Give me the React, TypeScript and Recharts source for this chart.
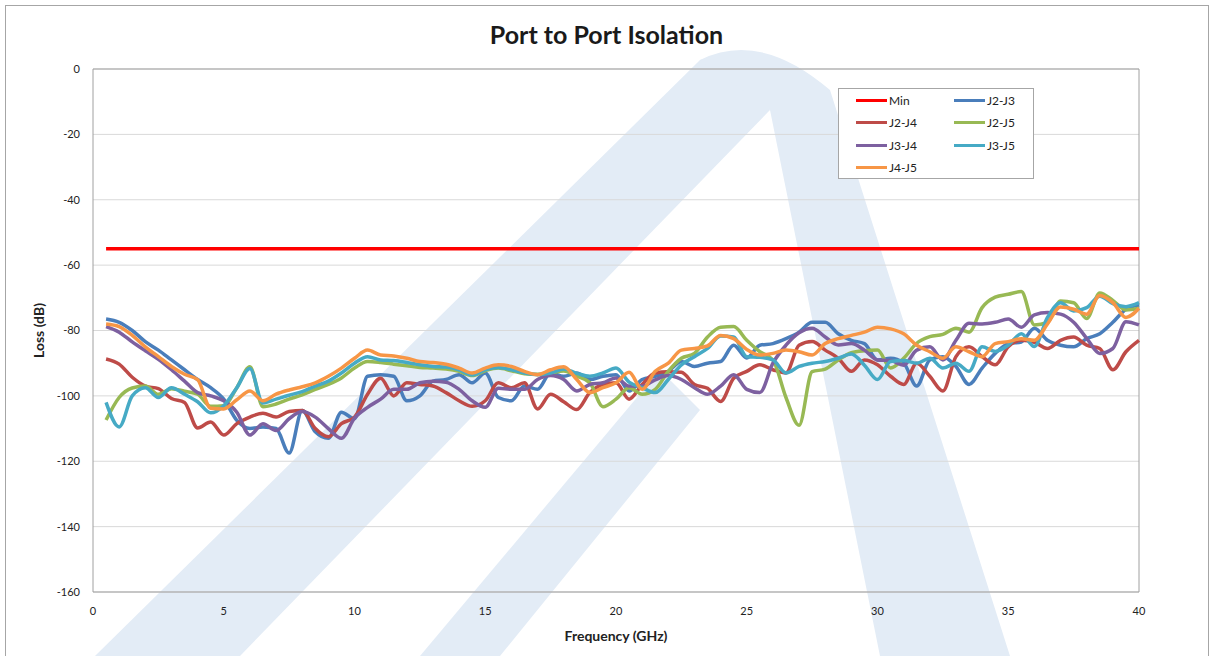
import React from "react";
import { LineChart, Line, XAxis, YAxis, CartesianGrid, ReferenceLine } from "recharts";

// frequency points (GHz)
const freq = [
  0.5, 1, 1.5, 2, 2.5, 3, 3.5, 4, 4.5, 5,
  5.5, 6, 6.5, 7, 7.5, 8, 8.5, 9, 9.5, 10,
  10.5, 11, 11.5, 12, 12.5, 13, 13.5, 14, 14.5, 15,
  15.5, 16, 16.5, 17, 17.5, 18, 18.5, 19, 19.5, 20,
  20.5, 21, 21.5, 22, 22.5, 23, 23.5, 24, 24.5, 25,
  25.5, 26, 26.5, 27, 27.5, 28, 28.5, 29, 29.5, 30,
  30.5, 31, 31.5, 32, 32.5, 33, 33.5, 34, 34.5, 35,
  35.5, 36, 36.5, 37, 37.5, 38, 38.5, 39, 39.5, 40,
];

const j2j3 = [
  -76.5, -77.5, -80, -83.4, -86, -89, -92, -95, -97.5, -101,
  -107.5, -110, -109.5, -110, -117.5, -104.5, -111, -113, -105, -107,
  -94, -93.5, -94, -101.5, -100, -95.5, -95, -93.5, -96, -93,
  -100.5, -101.5, -97, -98, -93, -94, -93, -95, -94, -93.5,
  -98.5, -95, -94, -92.5, -89.5, -91, -90, -89.5, -84.5, -88.4,
  -84.5, -84, -82.5, -80.5, -77.5, -77.5, -81, -83, -84, -89,
  -88.5, -90, -97, -89, -88, -91, -96.5, -91.5, -87, -84,
  -83.5, -79.3, -83, -84.5, -85, -82.5, -81, -77.5, -73.5, -72.2,
];

const j2j4 = [
  -88.7, -90.3, -94.3, -97, -97.8, -100.8, -102, -109.8, -108, -112,
  -108.5, -106.5, -105.3, -106.5, -104.8, -104.5, -110, -112.5, -108.5, -106.5,
  -99.5, -94.6, -100, -96, -96.5, -97, -99, -101.5, -103.2, -101.5,
  -96, -97.5, -96, -104, -99.5, -101.8, -104.2, -99, -96.5, -96,
  -101, -96.5, -93, -92.6, -92.8, -96.5, -97.7, -101.7, -94.6, -92.5,
  -90.5, -92, -93, -84.5, -83.4, -86, -88.5, -92.5, -89, -90.5,
  -94, -96.5, -90, -94, -98.5, -88, -85, -88, -90.5, -85,
  -83, -83.6, -85.5, -83, -82, -84.5, -85.5, -92, -86.5, -83,
];

const j2j5 = [
  -107.4, -100.5, -97.6, -97, -99.5, -97.8, -98.6, -99.5, -103.2, -103,
  -97.5, -91.1, -103.3, -102.5, -101, -99.7, -98, -96.5, -94.5, -91.5,
  -89.5, -89.8, -90.3, -90.8, -91.3, -91.5, -91.8, -92.5, -93.8, -92.3,
  -91.5, -92.3, -93.2, -93.4, -93, -92.4, -94, -96, -103.3, -101,
  -97.5, -99.5, -98, -92.5, -88.5, -87, -82, -79, -78.8, -83,
  -86.5, -89, -100.5, -109, -92.6, -91.8, -89, -86.8, -86.2, -86,
  -91.5, -88.5, -83.9, -81.9, -81.2, -79.3, -80.5, -73, -69.8, -68.9,
  -68.1, -78.3, -77.5, -71, -71.5, -76.3, -68.5, -70.8, -73.7, -73.2,
];

const j3j4 = [
  -78.8, -80.5, -83.5, -86.2, -88.8, -92, -95.5, -99, -100, -101.5,
  -105, -112, -108.5, -110.6, -107, -104.8, -106.5, -110, -113, -106.8,
  -103.5, -101, -98, -98, -96, -95.5, -95.8, -98, -101.5, -103.5,
  -97.7, -98, -98, -95, -93.8, -95, -98.5, -96.5, -96, -94.5,
  -97, -97, -95.1, -93.8, -95, -97.5, -99.5, -97, -93.5, -98,
  -99, -90, -84.5, -80.7, -79.3, -82, -84.4, -84, -86, -89,
  -89.2, -90.6, -86, -85, -89, -83, -77.8, -78, -77.5, -76.5,
  -79, -75.2, -74.5, -75, -77.5, -82.4, -87, -85.5, -77.3, -78.3,
];

const j3j5 = [
  -102, -109.5, -100, -97.5, -100.5, -97.5, -99.5, -101.8, -105.2, -103,
  -97.5, -91.6, -102.2, -101, -99.8, -98.7, -97, -95.5, -93, -90,
  -88, -89, -89.2, -89.8, -90.5, -91, -91.2, -92, -93.6, -92,
  -91.3, -92, -93, -93.5, -93, -91.8, -93.1, -94, -93, -91.5,
  -95.8, -97.5, -99, -95, -90.5, -88, -85.5, -81.7, -82, -88,
  -88.2, -89, -93, -91, -90, -89.5, -88.5, -87.2, -90.6, -95,
  -89.5, -89.2, -90, -88.5, -91.5, -90, -92.5, -85, -86.4, -84.5,
  -81, -84.9, -76, -71.5, -74, -73, -69.5, -71.8, -72.7, -71.5,
];

const j4j5 = [
  -78, -78.8, -81.5, -85, -88, -91, -93.4, -95, -103.8, -104,
  -101.2, -98.5, -101.5, -99.5, -98.2, -97.2, -96, -94, -91.5, -88.5,
  -86, -87.5, -87.8, -88.5, -89.5, -89.8, -90.3, -91.5, -93, -91.5,
  -90.5, -91, -92.5, -93.5, -92, -91.1, -95, -99, -97.5, -96,
  -92.8, -98, -92.5, -90, -86, -85.5, -84.7, -81.5, -82.5, -85.8,
  -87.5, -87, -86, -86.5, -87.5, -84, -82.5, -81.5, -80.5, -79,
  -79.5, -81, -84.5, -86.5, -88.5, -85, -86.5, -88, -84, -83.4,
  -82.5, -83, -78, -72.8, -73.5, -75, -69.3, -71.5, -76, -73.2,
];

// spec limit
const minFreq = [0.5, 40];
const minLoss = [-55, -55];

const xTicks = [0, 5, 10, 15, 20, 25, 30, 35, 40];
const yTicks = [-160, -140, -120, -100, -80, -60, -40, -20, 0];

const seriesNames = ["J2-J3", "J2-J4", "J2-J5", "J3-J4", "J3-J5", "J4-J5"];
const seriesKeys = ["j2j3", "j2j4", "j2j5", "j3j4", "j3j5", "j4j5"];
const seriesColors = ["#4a7ebb", "#be4b48", "#98b954", "#7d60a0", "#46aac5", "#f79646"];

const FONT = "Lato, 'Open Sans', sans-serif";

function LegendBox() {
  const items = [{ name: "Min", color: "#ff0000" }].concat(
    seriesNames.map((n, i) => ({ name: n, color: seriesColors[i] }))
  );
  return (
    <div
      style={{
        position: "absolute",
        left: 838,
        top: 88,
        width: 196,
        height: 91,
        boxSizing: "border-box",
        border: "1px solid #a6a6a6",
        background: "#fff",
        display: "grid",
        gridTemplateColumns: "98px 98px",
        gridAutoRows: "22.5px",
        fontFamily: FONT,
        fontSize: 12,
        color: "#222",
      }}
    >
      {items.map((p) => (
        <div key={p.name} style={{ display: "flex", alignItems: "center", paddingLeft: 17 }}>
          <span style={{ display: "inline-block", width: 31, height: 3, background: p.color, marginRight: 2 }} />
          <span>{p.name}</span>
        </div>
      ))}
    </div>
  );
}

export default function App() {
  const rows = freq.map((f, i) => ({
    f,
    j2j3: j2j3[i],
    j2j4: j2j4[i],
    j2j5: j2j5[i],
    j3j4: j3j4[i],
    j3j5: j3j5[i],
    j4j5: j4j5[i],
  }));
  const minRows = minFreq.map((f, i) => ({ f, min: minLoss[i] }));

  return (
    <div style={{ position: "absolute", left: 0, top: 0, width: 1213, height: 656, background: "#fff", overflow: "hidden" }}>
      {/* faint logo watermark behind the plot */}
      <svg width={1213} height={656} style={{ position: "absolute", left: 0, top: 0 }}>
        <g fill="#e3ecf6">
          <path d="M 95 656 L 240 656 L 770 110 Q 740 45 700 60 Z" />
          <path d="M 700 60 Q 760 30 830 90 L 1010 656 L 880 656 L 770 110 Z" />
          <path d="M 420 656 L 500 656 L 700 410 L 660 370 Z" />
        </g>
      </svg>
      <div
        style={{
          position: "absolute",
          left: 5,
          top: 5,
          width: 1202,
          height: 670,
          border: "1px solid #a6a6a6",
        }}
      />
      <div
        style={{
          position: "absolute",
          left: 0,
          top: 19,
          width: 1213,
          textAlign: "center",
          fontFamily: FONT,
          fontWeight: 700,
          fontSize: 25,
          color: "#1a1a1a",
        }}
      >
        Port to Port Isolation
      </div>
      <div style={{ position: "absolute", left: 0, top: 0 }}>
        <LineChart width={1213} height={656} data={rows} margin={{ top: 69, right: 74, left: 0, bottom: 0 }}>
          <CartesianGrid vertical={false} stroke="#d9d9d9" />
          <XAxis
            dataKey="f"
            type="number"
            domain={[0, 40]}
            ticks={xTicks}
            height={64}
            stroke="#a0a0a0"
            tickLine={false}
            tickMargin={9}
            tick={{ fill: "#222", fontSize: 11, fontFamily: FONT }}
            label={{
              value: "Frequency (GHz)",
              position: "insideBottom",
              offset: 15,
              style: { fontFamily: FONT, fontWeight: 700, fontSize: 14, fill: "#222" },
            }}
          />
          <YAxis
            type="number"
            domain={[-160, 0]}
            ticks={yTicks}
            width={93}
            stroke="#a0a0a0"
            tickLine={false}
            tickMargin={7}
            tick={{ fill: "#222", fontSize: 11, fontFamily: FONT }}
            label={{
              value: "Loss (dB)",
              angle: -90,
              position: "center",
              dx: -7,
              style: { fontFamily: FONT, fontWeight: 700, fontSize: 14, fill: "#222" },
            }}
          />
          <ReferenceLine y={0} stroke="#a0a0a0" />
          <ReferenceLine x={40} stroke="#a0a0a0" />
          <Line data={minRows} dataKey="min" name="Min" stroke="#ff0000" strokeWidth={3.5} dot={false} isAnimationActive={false} />
          {seriesKeys.map((k, i) => (
            <Line
              key={k}
              dataKey={k}
              name={seriesNames[i]}
              type="monotone"
              stroke={seriesColors[i]}
              strokeWidth={3.5}
              dot={false}
              isAnimationActive={false}
            />
          ))}
        </LineChart>
      </div>
      <LegendBox />
    </div>
  );
}
